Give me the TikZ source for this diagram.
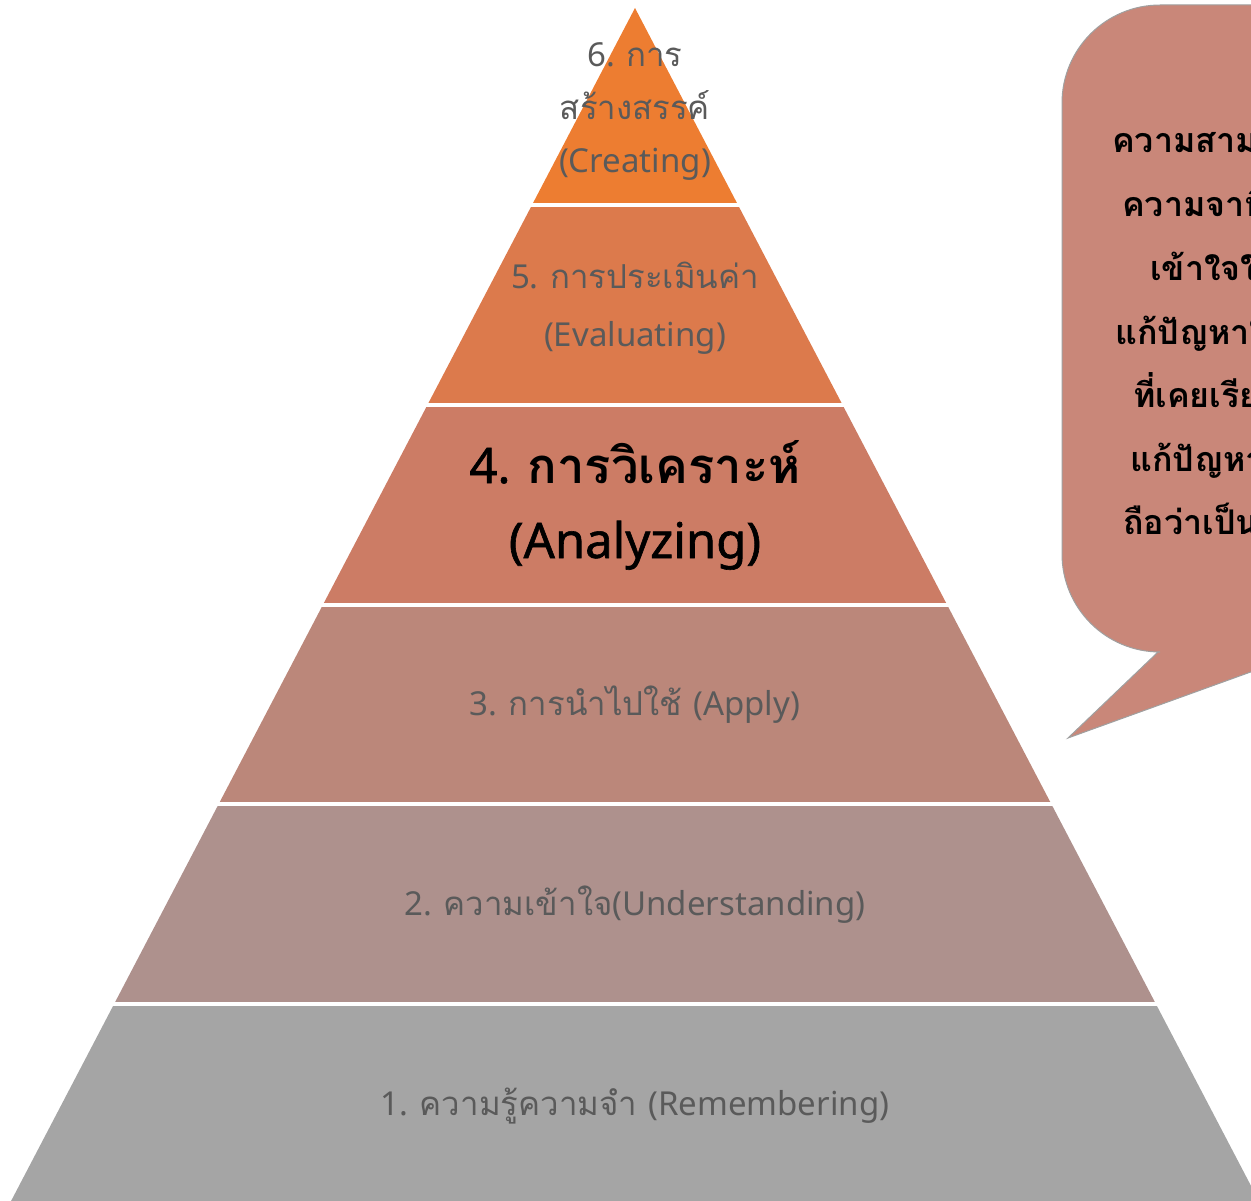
\documentclass[tikz,border=0pt]{standalone}
\usepackage{fontspec}
\newfontfamily\thaifont[Script=Thai]{Loma}
\newfontfamily\latf{Noto Sans}
\newfontfamily\latmed[FakeBold=1.2]{Noto Sans}
\newcommand{\latn}[1]{{\latf #1}}
\newcommand{\latm}[1]{{\latmed #1}}
\definecolor{cSix}{HTML}{ED7D31}
\definecolor{cFive}{HTML}{DC7A4C}
\definecolor{cFour}{HTML}{CC7C65}
\definecolor{cThree}{HTML}{BB877A}
\definecolor{cTwo}{HTML}{AE918D}
\definecolor{cOne}{HTML}{A5A5A5}
\definecolor{cCall}{HTML}{C98779}
\definecolor{cEdge}{HTML}{A0A0A0}
\definecolor{labelgrey}{HTML}{5A5A5A}
\begin{document}
\begin{tikzpicture}[x=1pt,y=-1pt,
  gap/.style={draw=white,line width=4pt},
  lbl/.style={text=labelgrey,font=\thaifont\fontsize{33}{40}\selectfont,inner sep=0pt,anchor=base},
  hilbl/.style={text=black,font=\thaifont\fontsize{49}{55}\selectfont,inner sep=0pt,anchor=base},
  calltxt/.style={text=black,font=\thaifont\bfseries\fontsize{34}{40}\selectfont,inner sep=0pt,anchor=base west}]
\useasboundingbox (0,0) rectangle (1251,1201);
\begin{scope}
\clip (0,0) rectangle (1251,1201);
% pyramid layers
\fill[cSix] (635,8) -- (738,205) -- (532,205) -- cycle;
\fill[cFive] (532,205) -- (738,205) -- (842.6,405) -- (427.4,405) -- cycle;
\fill[cFour] (427.4,405) -- (842.6,405) -- (947.2,605) -- (322.8,605) -- cycle;
\fill[cThree] (322.8,605) -- (947.2,605) -- (1051.3,804) -- (218.7,804) -- cycle;
\fill[cTwo] (218.7,804) -- (1051.3,804) -- (1155.9,1004) -- (114.1,1004) -- cycle;
\fill[cOne] (114.1,1004) -- (1155.9,1004) -- (1274.1,1230) -- (-4.1,1230) -- cycle;
% white separators
\draw[gap] (520,205) -- (750,205);
\draw[gap] (415,405) -- (855,405);
\draw[gap] (310,605) -- (960,605);
\draw[gap] (205,804) -- (1065,804);
\draw[gap] (100,1004) -- (1170,1004);
% labels
\node[lbl] (l6a) at (635,67) {\latn{6. }การ};
\node[lbl] (l6b) at (635,120) {สร้างสรรค์};
\node[lbl] (l6c) at (635,173) {\latn{(Creating)}};
\node[lbl] (l5a) at (635,288) {\latn{5. }การประเมินค่า};
\node[lbl] (l5b) at (635,346) {\latn{(Evaluating)}};
\node[hilbl] (l4a) at (635,483) {\latm{4. }\bfseries การวิเคราะห์};
\node[hilbl] (l4b) at (635,558) {\latm{(Analyzing)}};
\node[lbl] (l3) at (635,715) {\latn{3. }การนำไปใช้ \latn{(Apply)}};
\node[lbl] (l2) at (635,915) {\latn{2. }ความเข้าใจ\latn{(Understanding)}};
\node[lbl] (l1) at (635,1115) {\latn{1. }ความรู้ความจำ \latn{(Remembering)}};
% callout
\path[fill=cCall,draw=cEdge,line width=1pt] (1062,554) -- (1062,103)
  arc[start angle=180,end angle=270,radius=98] -- (1400,5) -- (1400,652)
  -- (1306,652) -- (1068,738) -- (1158,652) -- (1160,652)
  arc[start angle=90,end angle=180,radius=98] -- cycle;
\node[calltxt] (c1) at (1112,153) {ความสามารถในการ};
\node[calltxt] (c2) at (1122,217) {ความจาที่};
\node[calltxt] (c3) at (1150,280) {เข้าใจใน};
\node[calltxt] (c4) at (1115,344) {แก้ปัญหาใหม่};
\node[calltxt] (c5) at (1133,407) {ที่เคยเรียน};
\node[calltxt] (c6) at (1130,471) {แก้ปัญหา};
\node[calltxt] (c7) at (1123,534) {ถือว่าเป็น};
\end{scope}
\end{tikzpicture}
\end{document}
